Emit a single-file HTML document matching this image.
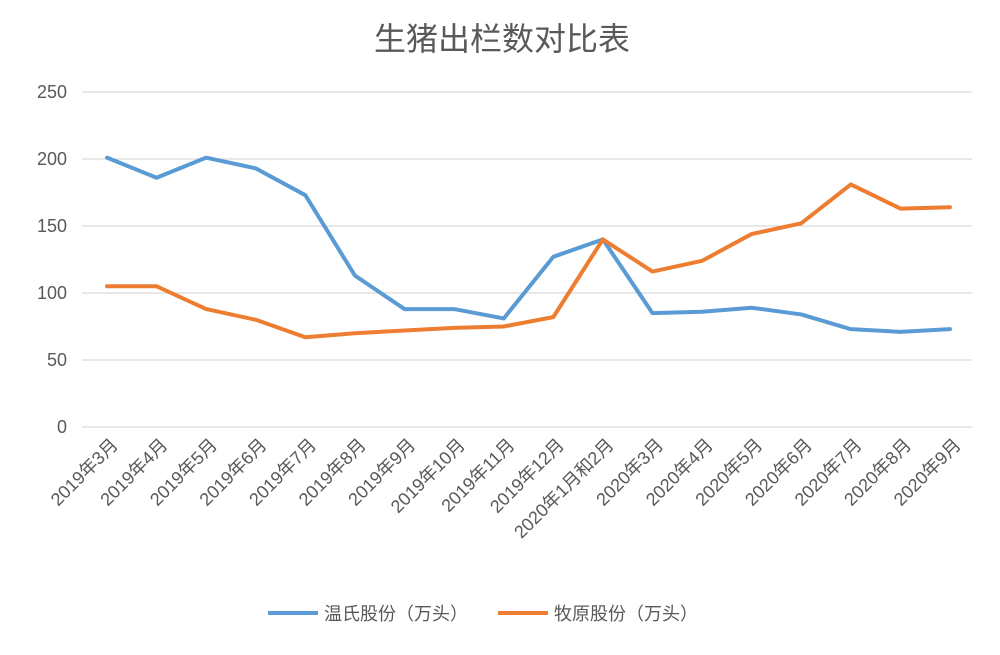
<!DOCTYPE html>
<html><head><meta charset="utf-8"><style>
body{margin:0;background:#fff;width:1000px;height:650px;overflow:hidden;font-family:"Liberation Sans","Noto Sans CJK SC",sans-serif}
</style></head><body>
<svg id="c" width="1000" height="650" style="font-family:'Liberation Sans','Noto Sans CJK SC',sans-serif">
<text x="502" y="50" text-anchor="middle" font-size="32" fill="#595959">生猪出栏数对比表</text>
<g id="grid"></g><g id="xl"></g><g id="lines"></g>
<g>
<line x1="268" y1="613" x2="318" y2="613" stroke="#5b9bd5" stroke-width="4"/>
<text x="324" y="620" font-size="18" fill="#595959">温氏股份（万头）</text>
<line x1="498" y1="613" x2="548" y2="613" stroke="#ed7d31" stroke-width="4"/>
<text x="554" y="620" font-size="18" fill="#595959">牧原股份（万头）</text>
</g>
</svg>
<script>
const categories=["2019年3月","2019年4月","2019年5月","2019年6月","2019年7月","2019年8月","2019年9月","2019年10月","2019年11月","2019年12月","2020年1月和2月","2020年3月","2020年4月","2020年5月","2020年6月","2020年7月","2020年8月","2020年9月"];
const wens=[201,186,201,193,173,113,88,88,81,127,140,85,86,89,84,73,71,73];
const muyuan=[105,105,88,80,67,70,72,74,75,82,140,116,124,144,152,181,163,164];
const yTicks=[0,50,100,150,200,250];
const NS="http://www.w3.org/2000/svg";
const x0=107,x1=950,xs=i=>x0+(x1-x0)*i/(categories.length-1);
const ys=v=>427-v*(335/250);
function mk(t,a,p){const e=document.createElementNS(NS,t);for(const k in a)e.setAttribute(k,a[k]);p.appendChild(e);return e;}
const g=document.getElementById('grid');
yTicks.forEach(v=>{
 const l=mk('line',{x1:82,x2:972,y1:ys(v),y2:ys(v),stroke:'#d9d9d9','stroke-width':1.3},g);
 
 
 const t=mk('text',{x:67,y:ys(v)+6,'text-anchor':'end','font-size':18,fill:'#595959'},g);
 t.textContent=v;
 
 
});
const xl=document.getElementById('xl');
categories.forEach((c,i)=>{
 const x=xs(i)+12,y=446;
 const t=mk('text',{x:x,y:y,'text-anchor':'end','font-size':18,fill:'#595959',transform:`rotate(-45 ${x} ${y})`},xl);
 t.textContent=c;
 
 
});
const L=document.getElementById('lines');
[[wens,'#5b9bd5','series-wens'],[muyuan,'#ed7d31','series-muyuan']].forEach(([d,col,n])=>{
 const p=mk('polyline',{points:d.map((v,i)=>xs(i)+','+ys(v)).join(' '),fill:'none',stroke:col,'stroke-width':4,'stroke-linejoin':'round','stroke-linecap':'round'},L);
 
 
});
</script>
</body></html>
